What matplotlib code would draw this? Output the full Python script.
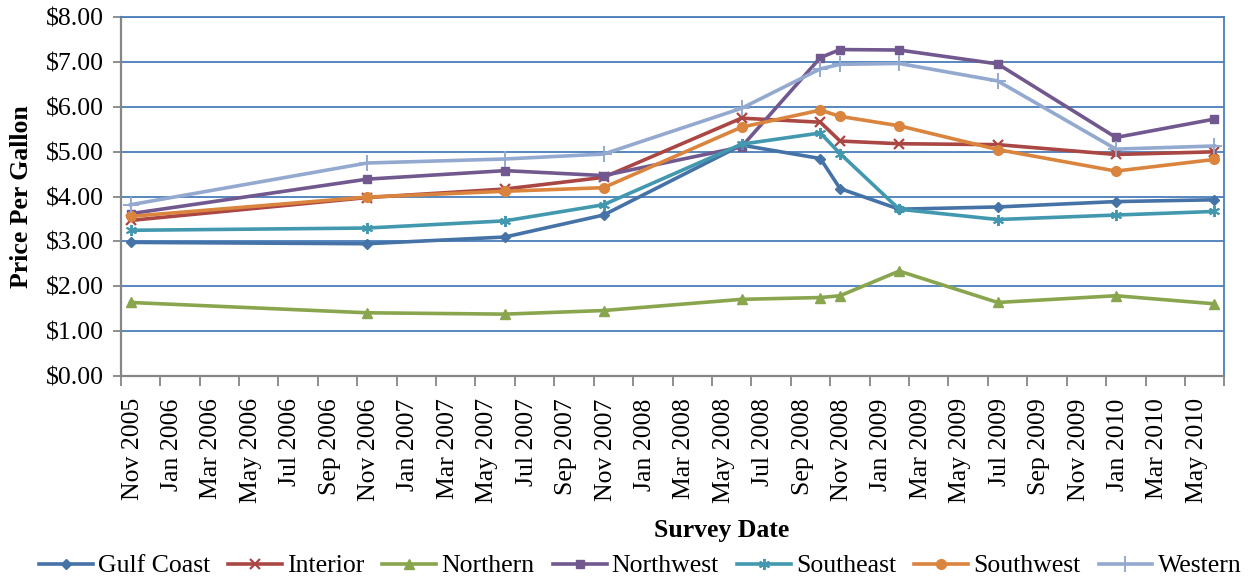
import matplotlib
matplotlib.use('Agg')
import matplotlib.pyplot as plt
import numpy as np
import pandas as pd

survey_dates = ['2005-11', '2006-11', '2007-06', '2007-11', '2008-06', '2008-10',
                '2008-11', '2009-02', '2009-07', '2010-01', '2010-06']

gulf_coast = [2.98, 2.95, 3.10, 3.59, 5.15, 4.85, 4.18, 3.72, 3.77, 3.89, 3.93]
interior = [3.47, 3.98, 4.17, 4.43, 5.75, 5.66, 5.24, 5.18, 5.16, 4.94, 5.00]
northern = [1.64, 1.41, 1.38, 1.46, 1.71, 1.75, 1.79, 2.34, 1.64, 1.79, 1.61]
northwest = [3.62, 4.39, 4.58, 4.47, 5.11, 7.10, 7.28, 7.27, 6.96, 5.32, 5.73]
southeast = [3.25, 3.30, 3.46, 3.82, 5.17, 5.42, 4.96, 3.72, 3.49, 3.59, 3.67]
southwest = [3.56, 3.99, 4.12, 4.20, 5.55, 5.93, 5.79, 5.58, 5.05, 4.57, 4.83]
western = [3.82, 4.75, 4.84, 4.95, 5.97, 6.85, 6.95, 6.97, 6.58, 5.06, 5.13]

series_names = ['Gulf Coast', 'Interior', 'Northern', 'Northwest', 'Southeast', 'Southwest', 'Western']
series_values = [gulf_coast, interior, northern, northwest, southeast, southwest, western]

STYLES = [
    {'color': '#4572A7', 'marker': 'D', 'markersize': 5},
    {'color': '#AA4643', 'marker': 'x', 'markersize': 7, 'markeredgewidth': 1.6},
    {'color': '#89A54E', 'marker': '^', 'markersize': 7},
    {'color': '#71588F', 'marker': 's', 'markersize': 6},
    {'color': '#4198AF', 'marker': (6, 2, 0), 'markersize': 8, 'markeredgewidth': 1.4},
    {'color': '#DB843D', 'marker': 'o', 'markersize': 7},
    {'color': '#93A9CF', 'marker': '+', 'markersize': 12, 'markeredgewidth': 1.4},
]

GRID_COLOR = '#4A7EBB'
AXIS_COLOR = '#868686'
FONT_SIZE = 18.5

plt.rcParams['font.family'] = ['Liberation Serif', 'DejaVu Serif']
plt.rcParams['font.size'] = FONT_SIZE

# month axis: each month is one slot, points sit in the middle of their slot
start = pd.Period('2005-11', freq='M')
n_months = 56
x = np.array([(pd.Period(d, freq='M') - start).n for d in survey_dates]) + 0.5

fig = plt.figure(figsize=(12.51, 5.8), dpi=100)
ax = fig.add_axes([0.0965, 0.3517, 0.8822, 0.6185])

for name, values, style in zip(series_names, series_values, STYLES):
    ax.plot(x, values, label=name, linewidth=2.6, markeredgecolor=style['color'], **style)

ax.set_xlim(0, n_months)
ax.set_ylim(0, 8)
ax.set_yticks(np.arange(0, 9, 1))
ax.yaxis.set_major_formatter(matplotlib.ticker.FuncFormatter(lambda v, p: '${:.2f}'.format(v)))
ax.grid(axis='y', color=GRID_COLOR, linewidth=1.3)
ax.set_axisbelow(True)

tick_labels = pd.period_range('2005-11', '2010-05', freq='M')[::2].strftime('%b %Y')
ax.set_xticks(np.arange(0, n_months + 1, 2))
ax.set_xticklabels([])
ax.set_xticks(np.arange(0, n_months, 2) + 0.6, labels=list(tick_labels), minor=True, rotation=90)
ax.tick_params(axis='x', which='major', length=7, width=1.3, color=AXIS_COLOR, direction='out')
ax.tick_params(axis='x', which='minor', length=0, pad=16)
ax.tick_params(axis='y', length=6, width=1.3, color=AXIS_COLOR, direction='out', pad=6)

for side in ['left', 'bottom']:
    ax.spines[side].set_color(AXIS_COLOR)
    ax.spines[side].set_linewidth(1.6)
for side in ['top', 'right']:
    ax.spines[side].set_color(GRID_COLOR)
    ax.spines[side].set_linewidth(1.3)

fig.text(22 / 1251, 1 - 197 / 580, 'Price Per Gallon', rotation=90, fontweight='bold',
         ha='center', va='center')
fig.text(722 / 1251, 1 - 531 / 580, 'Survey Date', fontweight='bold', ha='center', va='center')

fig.legend(loc='center', bbox_to_anchor=(640 / 1251, 1 - 566 / 580), ncol=7, frameon=False,
           handlelength=2.1, handletextpad=0.2, columnspacing=0.7, borderaxespad=0.)

fig.savefig('out.png', dpi=100)
